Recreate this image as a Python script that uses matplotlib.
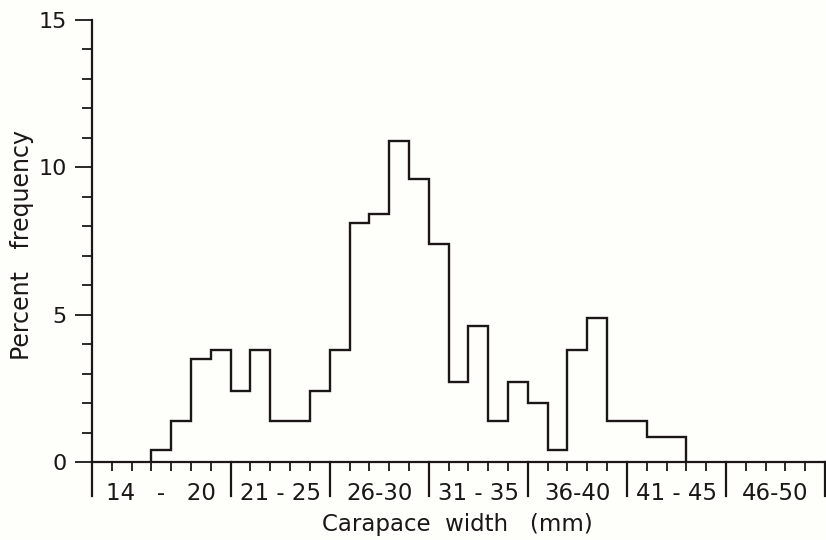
import numpy as np
import matplotlib
matplotlib.use('Agg')
import matplotlib.pyplot as plt

# Données : % par classe de 1 mm (17 mm à 43 mm)
first_width = 17
percent = [0.4, 1.4, 3.5, 3.8, 2.4, 3.8, 1.4, 1.4, 2.4, 3.8,
           8.1, 8.4, 10.9, 9.6, 7.4, 2.7, 4.6, 1.4, 2.7, 2.0,
           0.4, 3.8, 4.9, 1.4, 1.4, 0.85, 0.85]
group_bounds = [13.5, 20.5, 25.5, 30.5, 35.5, 40.5, 45.5, 50.5]
group_labels = ['14   -   20', '21 - 25', '26-30', '31 - 35', '36-40', '41 - 45', '46-50']
y_major = [0, 5, 10, 15]

ink = '#1c1717'
bg = '#fefefa'
plt.rcParams['font.family'] = 'DejaVu Sans'

fig = plt.figure(figsize=(8.26, 5.40), dpi=100, facecolor=bg)
ax = fig.add_axes([92 / 826, 78 / 540, 733 / 826, 442 / 540])
ax.set_facecolor(bg)

edges = np.arange(first_width - 0.5, first_width + len(percent), 1.0)
ax.stairs(percent, edges, baseline=0, fill=False, color=ink, linewidth=1.7)

ax.set_xlim(group_bounds[0], group_bounds[-1])
ax.set_ylim(0, 15)

for side in ['top', 'right']:
    ax.spines[side].set_visible(False)
for side in ['left', 'bottom']:
    ax.spines[side].set_color(ink)
    ax.spines[side].set_linewidth(1.6)

# axe Y : graduations tous les 1 %, étiquettes tous les 5 %
ax.set_yticks(y_major)
ax.set_yticks(np.arange(0, 16, 1), minor=True)
ax.tick_params(axis='y', which='major', length=12, width=1.3, color=ink,
               labelsize=16, labelcolor=ink, pad=6)
ax.tick_params(axis='y', which='minor', length=7, width=1.3, color=ink)

# axe X : petites graduations à chaque limite de classe
ax.set_xticks(np.arange(group_bounds[0], group_bounds[-1] + 0.5, 1.0))
ax.set_xticklabels([])
ax.tick_params(axis='x', which='major', length=6.5, width=1.3, color=ink, direction='out')

# séparateurs des groupes de 5 mm et leurs étiquettes
trans = ax.get_xaxis_transform()
for xb in group_bounds:
    ax.plot([xb, xb], [0, -0.077], transform=trans, color=ink,
            linewidth=1.6, clip_on=False)
for i, lab in enumerate(group_labels):
    xc = (group_bounds[i] + group_bounds[i + 1]) / 2
    ax.text(xc, -0.072, lab, transform=trans, ha='center', va='center',
            fontsize=16.5, color=ink)

fig.text(457 / 826, 1 - 525 / 540, 'Carapace  width   (mm)', ha='center', va='center',
         fontsize=16.5, color=ink)
fig.text(22 / 826, 1 - 245 / 540, 'Percent   frequency', ha='center', va='center',
         rotation=90, fontsize=17, color=ink)

fig.savefig('out.png', dpi=100, facecolor=bg)
